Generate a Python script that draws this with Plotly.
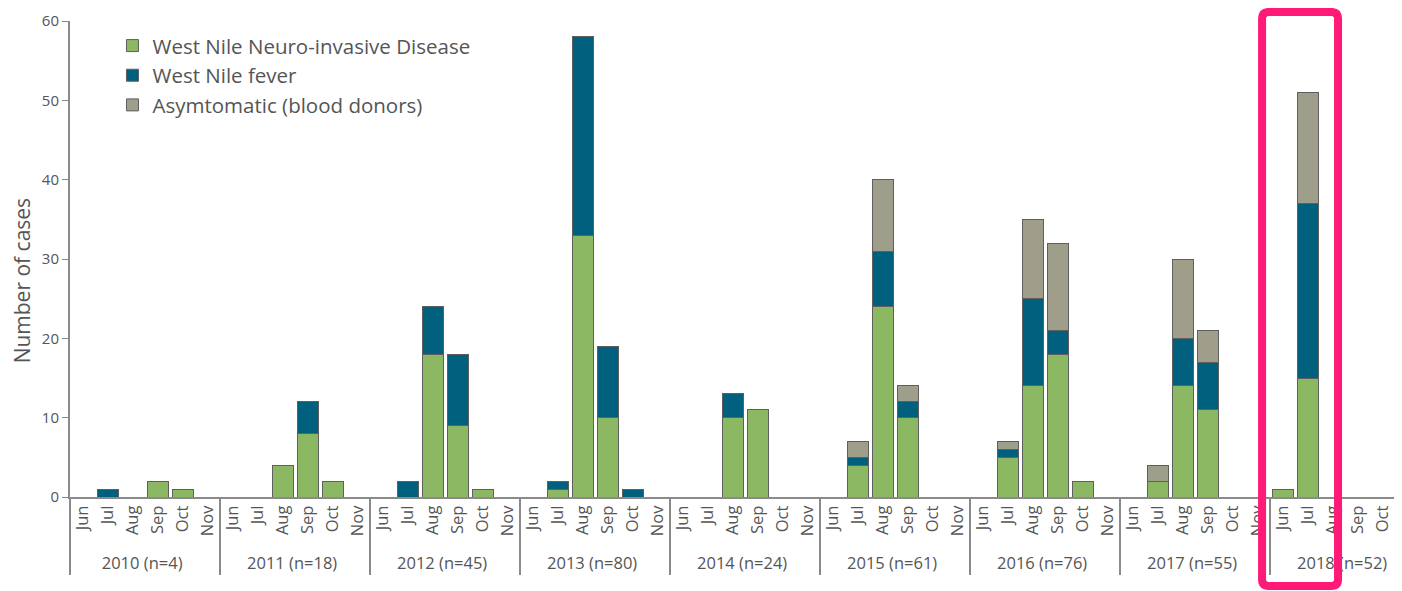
import plotly.graph_objects as go

years = [2010, 2011, 2012, 2013, 2014, 2015, 2016, 2017, 2018]
months = ["Jun", "Jul", "Aug", "Sep", "Oct", "Nov"]

# cases per month, one row per year (Jun..Nov)
nid = [
    0, 0, 0, 2, 1, 0,
    0, 0, 4, 8, 2, 0,
    0, 0, 18, 9, 1, 0,
    0, 1, 33, 10, 0, 0,
    0, 0, 10, 11, 0, 0,
    0, 4, 24, 10, 0, 0,
    0, 5, 14, 18, 2, 0,
    0, 2, 14, 11, 0, 0,
    1, 15, 0, 0, 0, 0,
]
fever = [
    0, 1, 0, 0, 0, 0,
    0, 0, 0, 4, 0, 0,
    0, 2, 6, 9, 0, 0,
    0, 1, 25, 9, 1, 0,
    0, 0, 3, 0, 0, 0,
    0, 1, 7, 2, 0, 0,
    0, 1, 11, 3, 0, 0,
    0, 0, 6, 6, 0, 0,
    0, 22, 0, 0, 0, 0,
]
asym = [
    0, 0, 0, 0, 0, 0,
    0, 0, 0, 0, 0, 0,
    0, 0, 0, 0, 0, 0,
    0, 0, 0, 0, 0, 0,
    0, 0, 0, 0, 0, 0,
    0, 2, 9, 2, 0, 0,
    0, 1, 10, 11, 0, 0,
    0, 2, 10, 4, 0, 0,
    0, 14, 0, 0, 0, 0,
]

series = [
    ("West Nile Neuro-invasive Disease", nid, "#8cb863"),
    ("West Nile fever", fever, "#00607d"),
    ("Asymtomatic (blood donors)", asym, "#9e9e8a"),
]

# year labels with totals
totals = {}
for i, y in enumerate(years):
    totals[y] = sum(sum(s[1][i * 6:(i + 1) * 6]) for s in series)
year_lbl = [f"{y} (n={totals[y]})" for y in years for m in months]
month_lbl = [m for y in years for m in months]

TXT = "#555555"
FONT = "Open Sans"

fig = go.Figure()
for name, vals, col in series:
    fig.add_trace(go.Bar(
        x=[year_lbl, month_lbl],
        y=[v if v else None for v in vals],
        name=name, legendgroup=name,
        marker=dict(color=col, line=dict(color="#5f5f5f", width=1)),
    ))

# page body has an 8px margin, so margins are offset by 8
fig.update_layout(
    barmode="stack", bargap=0.16,
    width=1402, height=591,
    margin=dict(l=62, r=0, t=13, b=102),
    plot_bgcolor="white", paper_bgcolor="white",
    font=dict(family=FONT, color=TXT, size=14),
    showlegend=True,
    legend=dict(x=0.0317, y=0.99, xanchor="left", yanchor="top",
                traceorder="normal", tracegroupgap=10,
                font=dict(size=20.5, color=TXT), bgcolor="rgba(0,0,0,0)"),
)
fig.update_xaxes(
    type="multicategory", range=[-0.5, 53.1],
    showline=True, linecolor="#8a8a8a", linewidth=2,
    ticks="", tickangle=-90, tickfont=dict(size=16.5, color=TXT),
    showdividers=True, dividercolor="#8a8a8a", dividerwidth=2,
    showgrid=False, zeroline=False,
)
fig.update_yaxes(
    range=[0, 60], dtick=10,
    showline=True, linecolor="#8a8a8a", linewidth=2,
    ticks="outside", ticklen=6, tickcolor="#8a8a8a", tickwidth=1,
    tickfont=dict(size=15, color=TXT),
    showgrid=False, zeroline=False,
)
fig.add_annotation(text="Number of cases", textangle=-90, showarrow=False,
                   xref="paper", yref="paper", x=-0.0355, y=0.456,
                   xanchor="center", yanchor="middle", borderpad=0,
                   font=dict(size=21, color=TXT))

# pink highlight box around 2018
x0, x1, y0, y1 = 0.8896, 0.9463, -0.187, 1.019
rx, ry = 0.005, 0.014
path = (f"M{x0+rx},{y1} L{x1-rx},{y1} Q{x1},{y1} {x1},{y1-ry} "
        f"L{x1},{y0+ry} Q{x1},{y0} {x1-rx},{y0} L{x0+rx},{y0} "
        f"Q{x0},{y0} {x0},{y0+ry} L{x0},{y1-ry} Q{x0},{y1} {x0+rx},{y1} Z")
fig.add_shape(type="path", path=path, xref="paper", yref="paper",
              line=dict(color="#fe1a76", width=8), layer="above")

fig.write_html("out.html")
